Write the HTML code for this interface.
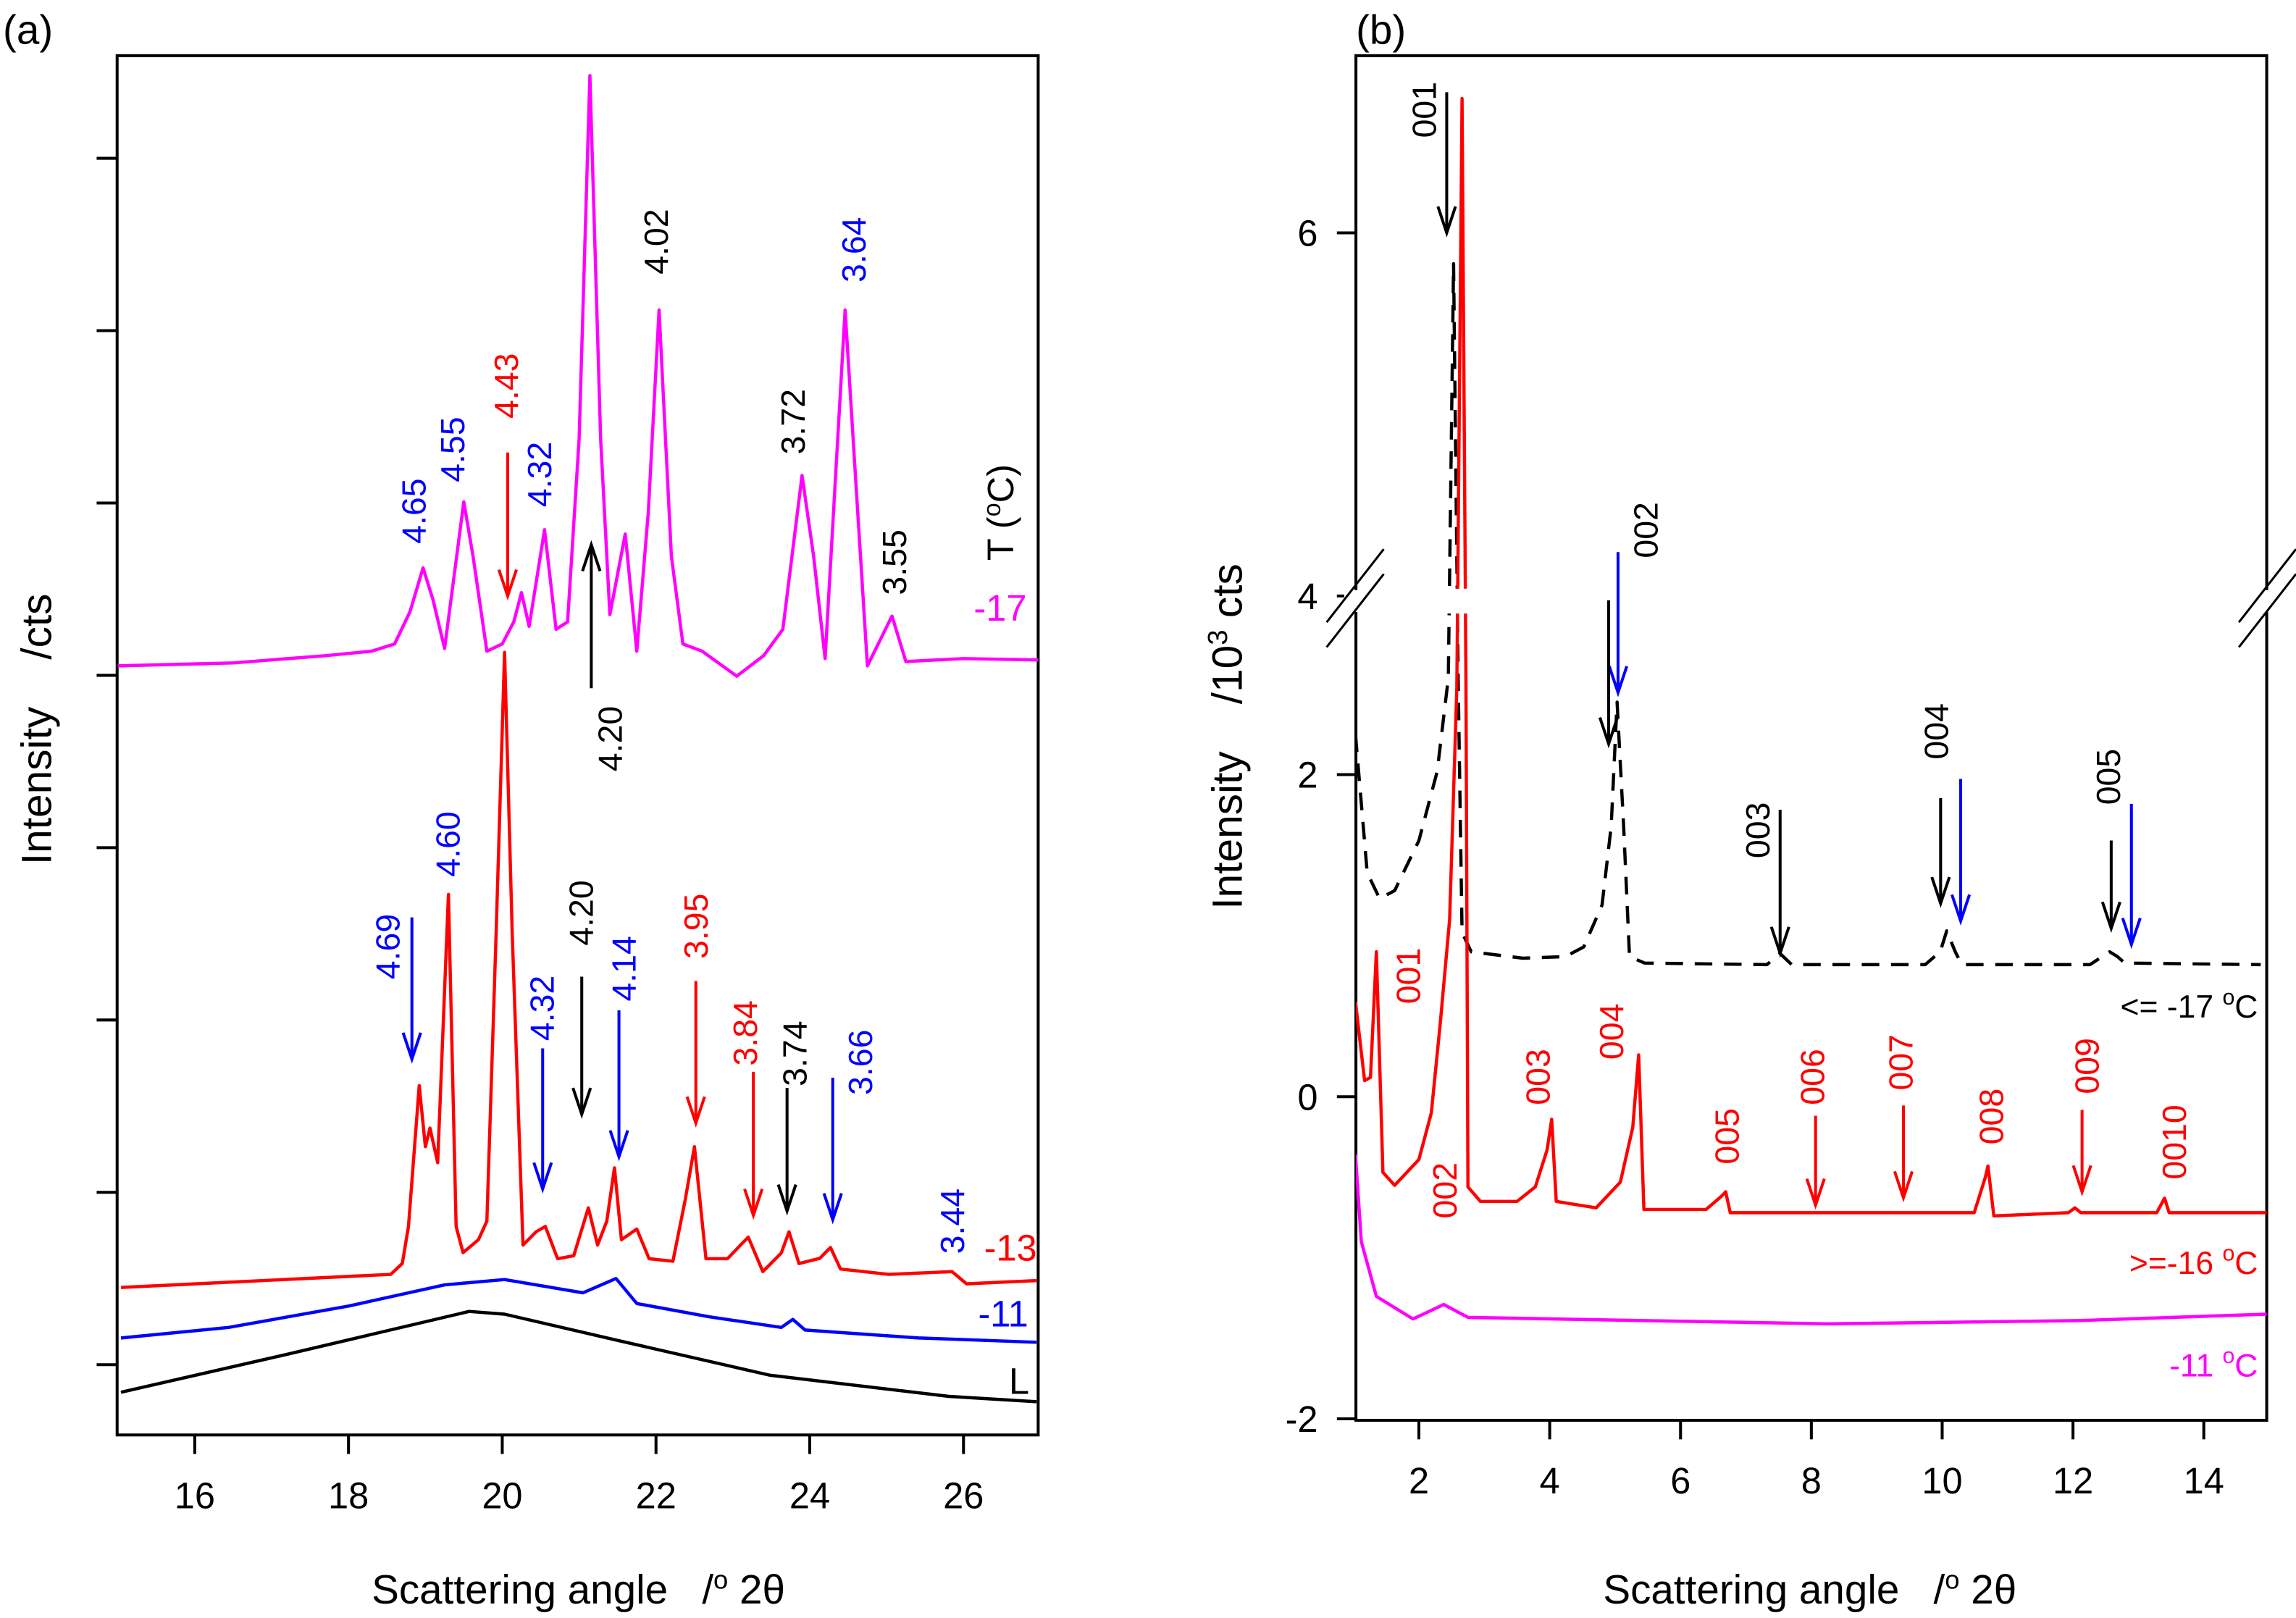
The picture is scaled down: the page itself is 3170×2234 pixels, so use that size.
<!DOCTYPE html>
<html><head><meta charset="utf-8"><style>
html,body{margin:0;padding:0;background:#fff;}
svg{display:block;font-family:"Liberation Sans",Arial,sans-serif;}
</style></head><body>
<svg id="fig" width="3170" height="2234" viewBox="0 0 1568 1105" xmlns="http://www.w3.org/2000/svg">
<defs>
<clipPath id="clipA"><rect x="80" y="38" width="629" height="942"/></clipPath>
<clipPath id="clipBlow"><rect x="926" y="419" width="622" height="551"/></clipPath>
<clipPath id="clipBup"><rect x="926" y="38" width="622" height="364"/></clipPath>
</defs>
<rect width="1568" height="1105" fill="#fff"/>
<g id="panelA"></g>
<g id="panelB"></g>
</svg>
<script>
// ---------- Panel (a) data: [2theta, intensity cts] ----------
const aTicksX = [16, 18, 20, 22, 24, 26];
const aTicksY = [0, 1000, 2000, 3000, 4000, 5000, 6000, 7000];
const aMagenta = [[15.0,4055],[16.5,4072],[17.7,4114],[18.3,4140],[18.6,4182],[18.8,4369],[18.97,4624],[19.1,4437],[19.25,4156],[19.5,5007],[19.62,4692],[19.8,4140],[20.0,4182],[20.15,4310],[20.25,4480],[20.35,4284],[20.55,4845],[20.7,4267],[20.85,4310],[21.0,5372],[21.14,7480],[21.28,5372],[21.4,4352],[21.6,4820],[21.75,4140],[21.9,4947],[22.04,6120],[22.2,4692],[22.35,4182],[22.6,4140],[23.05,3995],[23.4,4114],[23.65,4267],[23.9,5160],[24.05,4692],[24.2,4097],[24.46,6120],[24.6,5117],[24.75,4055],[25.07,4344],[25.25,4080],[26.0,4097],[27.0,4089]];
const aRed = [[15.04,448],[18.55,524],[18.7,587],[18.78,802],[18.92,1619],[19.0,1265],[19.06,1373],[19.16,1172],[19.3,2729],[19.4,802],[19.49,650],[19.69,725],[19.8,833],[19.92,2499],[20.03,4133],[20.13,2499],[20.27,694],[20.44,771],[20.56,802],[20.72,615],[20.93,632],[21.12,910],[21.24,694],[21.36,833],[21.46,1142],[21.55,725],[21.75,787],[21.91,615],[22.22,600],[22.38,956],[22.5,1265],[22.65,615],[22.93,615],[23.2,740],[23.39,540],[23.63,648],[23.73,771],[23.86,587],[24.13,617],[24.27,680],[24.4,555],[25.03,524],[25.85,540],[26.04,469],[26.95,488]];
const aBlue = [[15.04,155],[16.44,216],[18.0,340],[19.25,463],[20.03,494],[21.05,417],[21.48,500],[21.75,355],[22.69,278],[23.63,216],[23.78,263],[23.94,201],[25.42,155],[26.95,130]];
const aBlack = [[15.04,-160],[17.22,62],[19.57,309],[20.03,293],[21.52,139],[23.48,-61],[25.81,-184],[26.95,-215]];
// ---------- Panel (b) data: [2theta, intensity 10^3 cts] ----------
const bTicksX = [2, 4, 6, 8, 10, 12, 14];
const bTicksY = [-2, 0, 2, 4, 6];
const bBlackDash = [[1.03,2.25],[1.21,1.39],[1.40,1.23],[1.63,1.28],[2.0,1.59],[2.28,2.02],[2.45,2.6],[2.53,5.83],[2.6,2.6],[2.66,1.02],[2.80,0.90],[3.59,0.86],[4.24,0.87],[4.52,0.93],[4.80,1.19],[4.94,1.68],[5.03,2.45],[5.13,1.68],[5.22,0.87],[5.45,0.83],[7.32,0.82],[7.52,0.89],[7.7,0.82],[9.74,0.82],[9.97,0.90],[10.07,1.03],[10.2,0.9],[10.30,0.82],[12.26,0.82],[12.56,0.9],[12.68,0.87],[12.79,0.83],[14.87,0.82]];
const bRed = [[1.03,0.59],[1.17,0.10],[1.26,0.12],[1.35,0.90],[1.45,-0.47],[1.63,-0.55],[2.0,-0.39],[2.19,-0.10],[2.33,0.47],[2.47,1.10],[2.58,2.54],[2.66,6.74],[2.72,2.54],[2.75,-0.56],[2.94,-0.65],[3.50,-0.65],[3.78,-0.56],[3.96,-0.33],[4.03,-0.14],[4.10,-0.65],[4.71,-0.69],[5.08,-0.53],[5.27,-0.19],[5.36,0.26],[5.44,-0.70],[6.39,-0.70],[6.62,-0.62],[6.69,-0.59],[6.76,-0.72],[10.49,-0.72],[10.66,-0.50],[10.70,-0.43],[10.79,-0.74],[11.93,-0.72],[12.03,-0.69],[12.12,-0.72],[13.28,-0.72],[13.40,-0.63],[13.47,-0.72],[14.96,-0.72]];
const bMagenta = [[1.03,-0.36],[1.12,-0.90],[1.35,-1.24],[1.91,-1.38],[2.38,-1.29],[2.75,-1.37],[5.45,-1.39],[8.25,-1.41],[12.08,-1.39],[14.96,-1.35]];

const NS = "http://www.w3.org/2000/svg";
const xa = v => 80.5 + (v - 15) * 52.5;
const ya = v => 932 - v * 0.1177;
const xb = v => 969 + (v - 2) * 44.67;
const yb = v => v <= 3.5 ? 749 - 110 * v : 407 - 124 * (v - 4);

function mk(tag, attrs, parent) {
  const e = document.createElementNS(NS, tag);
  for (const k in attrs) e.setAttribute(k, attrs[k]);
  parent.appendChild(e);
  return e;
}
function pathD(arr, fx, fy) {
  return arr.map((p, i) => (i ? "L" : "M") + fx(p[0]).toFixed(2) + " " + fy(p[1]).toFixed(2)).join("");
}
function txt(parent, x, y, s, opts) {
  const t = mk("text", {x: x, y: y, "font-size": opts.size || 21, fill: opts.color || "#000", "text-anchor": opts.anchor || "middle"}, parent);
  t.textContent = s;
  return t;
}
function rlab(parent, cx, yTop, yBot, s, color, name) {
  const cy = (yTop + yBot) / 2;
  const t = mk("text", {x: cx, y: cy + 8, "font-size": 23, fill: color, "text-anchor": "middle", transform: "rotate(-90 " + cx + " " + cy + ")"}, parent);
  t.textContent = s;
  
  
  return t;
}
function arrow(parent, x, y1, y2, color, name) {
  const g = mk("g", {stroke: color, "stroke-width": 2, fill: "none"}, parent);
  
  
  mk("line", {x1: x, y1: y1, x2: x, y2: y2}, g);
  const d = y2 > y1 ? -1 : 1;
  mk("polyline", {points: (x - 6) + "," + (y2 + d * 18) + " " + x + "," + y2 + " " + (x + 6) + "," + (y2 + d * 18)}, g);
  return g;
}

// ================= Panel A =================
const A = document.getElementById("panelA");
const aLab = txt(A, 2, 30, "(a)", {size: 28, anchor: "start"});


const aFrame = mk("rect", {x: 80, y: 38, width: 629, height: 942, fill: "none", stroke: "#000", "stroke-width": 2}, A);


aTicksX.forEach(v => {
  const l = mk("line", {x1: xa(v), x2: xa(v), y1: 980, y2: 993, stroke: "#000", "stroke-width": 2}, A);
  
  
  const t = txt(A, xa(v), 1030, String(v), {size: 25});
  
  
});
aTicksY.forEach(v => {
  const l = mk("line", {x1: 66, x2: 80, y1: ya(v), y2: ya(v), stroke: "#000", "stroke-width": 2}, A);
  
  
});
const aXT = txt(A, 395, 1095, "", {size: 28});
aXT.innerHTML = 'Scattering angle&#160;&#160;&#160;/<tspan dy="-10" font-size="18">o</tspan><tspan dy="10"> 2\u03B8</tspan>';


const aYT = mk("text", {x: 25, y: 498, "font-size": 29, "text-anchor": "middle", transform: "rotate(-90 25 498)", dy: 10}, A);
aYT.innerHTML = "Intensity&#160;&#160;&#160;&#160;/cts";



const aSeries = [[aBlack, "#000", "series-liquid"], [aBlue, "#0000ff", "series-minus11"], [aRed, "#ff0000", "series-minus13"], [aMagenta, "#ff00ff", "series-minus17"]];
aSeries.forEach(s => {
  const p = mk("path", {d: pathD(s[0], xa, ya), fill: "none", stroke: s[1], "stroke-width": 2.2, "stroke-linejoin": "round", "clip-path": "url(#clipA)"}, A);
  
  
});
const BL = "#0000ff", RD = "#ff0000", MG = "#ff00ff", BK = "#000";
rlab(A, 282.6, 326, 372, "4.65", BL, "label-4-65");
rlab(A, 309, 284, 330, "4.55", BL, "label-4-55");
rlab(A, 345.7, 241, 286, "4.43", RD, "label-4-43");
arrow(A, 346.7, 309, 407, RD, "arrow-4-43");
rlab(A, 368.4, 301, 347, "4.32", BL, "label-4-32-top");
rlab(A, 448, 142, 188, "4.02", BK, "label-4-02");
rlab(A, 541.5, 265, 311, "3.72", BK, "label-3-72");
rlab(A, 583, 148, 193, "3.64", BL, "label-3-64");
rlab(A, 610.7, 361, 407, "3.55", BK, "label-3-55");
arrow(A, 403.8, 470, 372, BK, "arrow-4-20-up");
rlab(A, 416.6, 482, 527, "4.20", BK, "label-4-20-top");
const tC = mk("text", {x: 684, y: 350, "font-size": 25, "text-anchor": "middle", transform: "rotate(-90 684 350)", dy: 8}, A);
tC.innerHTML = 'T (<tspan dy="-9" font-size="17">o</tspan><tspan dy="9">C)</tspan>';


rlab(A, 264.9, 622, 671, "4.69", BL, "label-4-69");
arrow(A, 281.3, 626.5, 723.3, BL, "arrow-4-69");
rlab(A, 305.9, 553, 600, "4.60", BL, "label-4-60");
rlab(A, 370.2, 665, 712, "4.32", BL, "label-4-32");
arrow(A, 370.6, 716, 812, BL, "arrow-4-32");
rlab(A, 396.9, 600, 647, "4.20", BK, "label-4-20");
arrow(A, 397.3, 667, 761, BK, "arrow-4-20");
rlab(A, 426, 638, 685, "4.14", BL, "label-4-14");
arrow(A, 422.7, 690, 790, BL, "arrow-4-14");
rlab(A, 475.2, 609, 656, "3.95", RD, "label-3-95");
arrow(A, 475.2, 670, 767, RD, "arrow-3-95");
rlab(A, 508.8, 682, 729, "3.84", RD, "label-3-84");
arrow(A, 514.5, 732, 830, RD, "arrow-3-84");
rlab(A, 542.8, 696, 743, "3.74", BK, "label-3-74");
arrow(A, 537.5, 743, 827, BK, "arrow-3-74");
rlab(A, 587.5, 702, 749, "3.66", BL, "label-3-66");
arrow(A, 568.7, 736, 833, BL, "arrow-3-66");
rlab(A, 650.3, 810, 858, "3.44", BL, "label-3-44");
[["-17", 665, 424, MG, "legend-minus17"], ["-13", 672, 861, RD, "legend-minus13"], ["-11", 668, 906, BL, "legend-minus11"], ["L", 689, 952, BK, "legend-liquid"]].forEach(l => {
  const t = txt(A, l[1], l[2], l[0], {size: 25, color: l[3], anchor: "start"});
  
  
});

// ================= Panel B =================
const B = document.getElementById("panelB");
const bLab = txt(B, 926, 30, "(b)", {size: 28, anchor: "start"});


const bFrame = mk("rect", {x: 926, y: 38, width: 622, height: 932, fill: "none", stroke: "#000", "stroke-width": 2}, B);


bTicksX.forEach(v => {
  const l = mk("line", {x1: xb(v), x2: xb(v), y1: 970, y2: 983, stroke: "#000", "stroke-width": 2}, B);
  
  
  const t = txt(B, xb(v), 1020, String(v), {size: 25});
  
  
});
bTicksY.forEach(v => {
  const l = mk("line", {x1: 913, x2: 926, y1: yb(v), y2: yb(v), stroke: "#000", "stroke-width": 2}, B);
  
  
  const t = txt(B, 900, yb(v) + 9, String(v), {size: 25, anchor: "end"});
  
  
});
const brk = mk("g", {}, B);


mk("rect", {x: 918, y: 403, width: 16, height: 15, fill: "#fff"}, brk);
mk("rect", {x: 1540, y: 403, width: 16, height: 15, fill: "#fff"}, brk);
[[906, 945], [1529, 1568]].forEach(p => {
  mk("line", {x1: p[0], y1: 425, x2: p[1], y2: 375, stroke: "#000", "stroke-width": 1.5}, brk);
  mk("line", {x1: p[0], y1: 442, x2: p[1], y2: 392, stroke: "#000", "stroke-width": 1.5}, brk);
});
const bXT = txt(B, 1236, 1095, "", {size: 28});
bXT.innerHTML = 'Scattering angle&#160;&#160;&#160;/<tspan dy="-10" font-size="18">o</tspan><tspan dy="10"> 2\u03B8</tspan>';


const bYT = mk("text", {x: 838, y: 503, "font-size": 29, "text-anchor": "middle", transform: "rotate(-90 838 503)", dy: 10}, B);
bYT.innerHTML = 'Intensity&#160;&#160;&#160;&#160;/10<tspan dy="-10" font-size="19">3</tspan><tspan dy="10"> cts</tspan>';



const bSeries = [[bMagenta, MG, "series-minus11-b", null], [bBlackDash, BK, "series-le-minus17", "12 8"], [bRed, RD, "series-ge-minus16", null]];
bSeries.forEach(s => {
  ["url(#clipBlow)", "url(#clipBup)"].forEach(c => {
    const a = {d: pathD(s[0], xb, yb), fill: "none", stroke: s[1], "stroke-width": 2.2, "stroke-linejoin": "round", "clip-path": c};
    if (s[3]) a["stroke-dasharray"] = s[3];
    const p = mk("path", a, B);
    
    
  });
});
rlab(B, 972.6, 55, 95, "001", BK, "label-001-black");
arrow(B, 988, 63, 159, BK, "arrow-001-black");
rlab(B, 1124, 341, 383, "002", BK, "label-002-black");
arrow(B, 1105, 377, 473, BL, "arrow-002-blue");
arrow(B, 1098.6, 410, 508, BK, "arrow-002-black");
rlab(B, 1200.3, 546, 588, "003", BK, "label-003-black");
arrow(B, 1215.7, 553, 651, BK, "arrow-003-black");
rlab(B, 1322.3, 479, 520, "004", BK, "label-004-black");
arrow(B, 1325.3, 545, 617, BK, "arrow-004-black");
arrow(B, 1339, 532, 629, BL, "arrow-004-blue");
rlab(B, 1439.8, 509, 552, "005", BK, "label-005-black");
arrow(B, 1441.8, 574, 634, BK, "arrow-005-black");
arrow(B, 1455.6, 549, 645, BL, "arrow-005-blue");
rlab(B, 961.7, 647, 686, "001", RD, "label-001-red");
rlab(B, 986.7, 793, 833, "002", RD, "label-002-red");
rlab(B, 1050.4, 714, 757, "003", RD, "label-003-red");
rlab(B, 1100.4, 683, 726, "004", RD, "label-004-red");
rlab(B, 1179.5, 754, 798, "005", RD, "label-005-red");
rlab(B, 1237.8, 714, 757, "006", RD, "label-006-red");
arrow(B, 1239.9, 762, 823, RD, "arrow-006-red");
rlab(B, 1298.2, 703, 748, "007", RD, "label-007-red");
arrow(B, 1299.9, 755, 818, RD, "arrow-007-red");
rlab(B, 1359.8, 741, 784, "008", RD, "label-008-red");
rlab(B, 1425.2, 707, 749, "009", RD, "label-009-red");
arrow(B, 1421.9, 758, 814, RD, "arrow-009-red");
rlab(B, 1484.7, 751, 809, "0010", RD, "label-0010-red");
[['&lt;= -17 <tspan dy="-9" font-size="15">o</tspan><tspan dy="9">C</tspan>', 695, BK, "legend-le-minus17"],
 ['&gt;=-16 <tspan dy="-9" font-size="15">o</tspan><tspan dy="9">C</tspan>', 870, RD, "legend-ge-minus16"],
 ['-11 <tspan dy="-9" font-size="15">o</tspan><tspan dy="9">C</tspan>', 940, MG, "legend-minus11-b"]].forEach(l => {
  const t = mk("text", {x: 1542, y: l[1], "font-size": 22, fill: l[2], "text-anchor": "end"}, B);
  t.innerHTML = l[0];
  
  
});
</script>
</body></html>
